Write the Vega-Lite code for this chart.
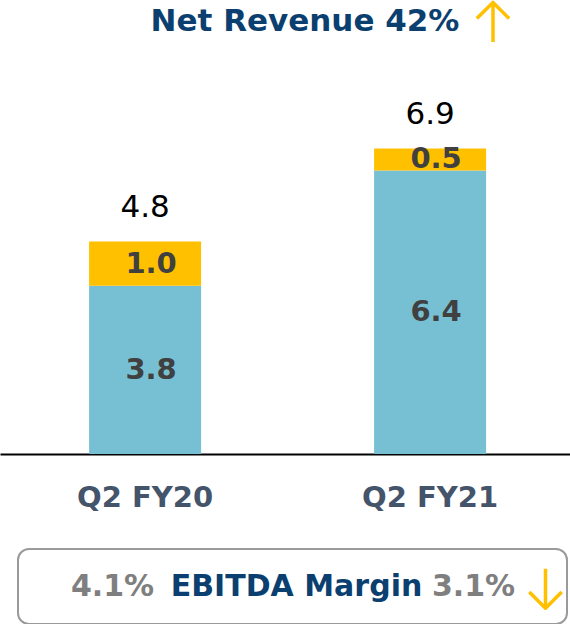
{
  "$schema": "https://vega.github.io/schema/vega-lite/v6.json",
  "padding": 0,
  "background": "white",
  "config": {
    "view": {"stroke": null},
    "font": "DejaVu Sans"
  },
  "datasets": {
    "revenue": [
      {"quarter": "Q2 FY20", "segment": "base", "value": 3.8},
      {"quarter": "Q2 FY20", "segment": "top", "value": 1.0},
      {"quarter": "Q2 FY21", "segment": "base", "value": 6.4},
      {"quarter": "Q2 FY21", "segment": "top", "value": 0.5}
    ]
  },
  "vconcat": [
    {
      "width": 570,
      "height": 454,
      "data": {"name": "revenue"},
      "layer": [
        {
          "mark": {"type": "bar"},
          "encoding": {
            "x": {
              "field": "quarter",
              "type": "nominal",
              "scale": {"paddingInner": 0.607, "paddingOuter": 0.3035, "align": 0.515},
              "axis": {
                "title": null,
                "labelAngle": 0,
                "ticks": false,
                "domainColor": "#000000",
                "domainWidth": 2,
                "labelFont": "DejaVu Sans",
                "labelFontWeight": "bold",
                "labelFontSize": 29,
                "labelColor": "#44546A",
                "labelPadding": 29
              }
            },
            "y": {
              "field": "value",
              "type": "quantitative",
              "stack": "zero",
              "scale": {"domain": [0, 10.25], "nice": false, "zero": true},
              "axis": null
            },
            "color": {
              "field": "segment",
              "type": "nominal",
              "scale": {"domain": ["base", "top"], "range": ["#77C0D4", "#FFC000"]},
              "legend": null
            },
            "order": {"field": "segment"}
          }
        },
        {
          "mark": {"type": "text", "fontSize": 29, "fontWeight": "bold", "color": "#404040", "baseline": "middle", "dx": 6},
          "encoding": {
            "x": {"field": "quarter", "type": "nominal"},
            "y": {"field": "value", "type": "quantitative", "stack": "zero", "bandPosition": 0.5},
            "text": {"field": "value", "type": "quantitative", "format": ".1f"},
            "detail": {"field": "segment"}
          }
        },
        {
          "mark": {"type": "text", "fontSize": 31, "color": "#000000", "baseline": "bottom", "dy": -17},
          "encoding": {
            "x": {"field": "quarter", "type": "nominal"},
            "y": {"aggregate": "sum", "field": "value", "type": "quantitative"},
            "text": {"aggregate": "sum", "field": "value", "type": "quantitative", "format": ".1f"}
          }
        },
        {
          "data": {"values": [{}]},
          "mark": {"type": "text", "text": "Net Revenue 42%", "fontSize": 31, "fontWeight": "bold", "color": "#0B3F70", "dx": 20},
          "encoding": {"y": {"datum": 9.75}}
        },
        {
          "data": {"values": [{}]},
          "mark": {
            "type": "point",
            "shape": "M0,1 L0,-1 M-0.82,-0.18 L0,-1 L0.82,-0.18",
            "size": 1560,
            "filled": false,
            "stroke": "#FFC000",
            "strokeWidth": 3.5,
            "strokeCap": "butt",
            "strokeJoin": "round",
            "opacity": 1,
            "xOffset": 208
          },
          "encoding": {"y": {"datum": 9.75}}
        }
      ]
    },
    {
      "hconcat": [
        {
          "width": 1,
          "height": 75,
          "data": {"values": [{}]},
          "mark": {"type": "text", "text": ""},
          "encoding": {}
        },
        {
          "width": 549,
          "height": 75,
          "data": {"values": [{}]},
          "view": {"stroke": "#9A9A9A", "strokeWidth": 2, "cornerRadius": 11, "fill": null},
          "layer": [
            {
              "mark": {"type": "text", "text": "4.1%", "fontSize": 30, "fontWeight": "bold", "color": "#7F7F7F", "dx": -180},
              "encoding": {}
            },
            {
              "mark": {"type": "text", "text": "EBITDA Margin", "fontSize": 30, "fontWeight": "bold", "color": "#0B3F70", "dx": 4},
              "encoding": {}
            },
            {
              "mark": {"type": "text", "text": "3.1%", "fontSize": 30, "fontWeight": "bold", "color": "#7F7F7F", "dx": 181},
              "encoding": {}
            },
            {
              "mark": {
                "type": "point",
                "shape": "M0,-1 L0,1 M-0.82,0.18 L0,1 L0.82,0.18",
                "size": 1560,
                "filled": false,
                "stroke": "#FFC000",
                "strokeWidth": 3.5,
                "strokeCap": "butt",
                "strokeJoin": "round",
                "opacity": 1,
                "xOffset": 253,
                "yOffset": 2
              },
              "encoding": {}
            }
          ]
        }
      ],
      "spacing": 16
    }
  ],
  "spacing": 36
}
